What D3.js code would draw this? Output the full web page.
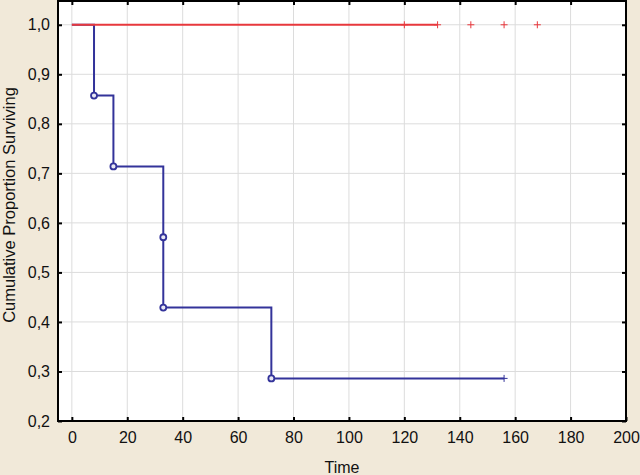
<!DOCTYPE html>
<html>
<head>
<meta charset="utf-8">
<script src="https://cdn.jsdelivr.net/npm/d3@7"></script>
<style>
  body { margin: 0; background: #f1e9d9; }
  svg { display: block; font-family: "Liberation Sans", Arial, sans-serif; }
</style>
</head>
<body>
<svg id="chart"></svg>
<script>
// Group 1 (blue): event times and Kaplan-Meier estimates
const blueTimes = [0, 8, 15, 33, 33, 72, 156];
const blueSurv = [1.0, 0.857, 0.714, 0.571, 0.429, 0.286, 0.286];
const blueEvents = [1, 2, 3, 4, 5]; // indices of points that are deaths (circles)
const blueCensored = [156];

// Group 2 (red): nobody died
const redTimes = [0, 132];
const redSurv = [1.0, 1.0];
const redCensored = [120, 132, 144, 156, 168];

const xTicks = [0, 20, 40, 60, 80, 100, 120, 140, 160, 180, 200];
const yTicks = [0.2, 0.3, 0.4, 0.5, 0.6, 0.7, 0.8, 0.9, 1.0];

const width = 640, height = 475;
const marginTop = 1, marginRight = 14, marginBottom = 54, marginLeft = 58;

const fmt = d3.formatLocale({ decimal: ',', thousands: '.', grouping: [3], currency: ['', ''] }).format('.1f');

const x = d3.scaleLinear().domain([-5, 200]).range([marginLeft, width - marginRight]);
const y = d3.scaleLinear().domain([0.2, 1.048]).range([height - marginBottom, marginTop]);

const svg = d3.select('#chart')
  .attr('width', width)
  .attr('height', height)
  .attr('viewBox', [0, 0, width, height]);

// plot background
svg.append('rect')
  .attr('x', marginLeft).attr('y', marginTop)
  .attr('width', width - marginLeft - marginRight)
  .attr('height', height - marginTop - marginBottom)
  .attr('fill', '#fff');

// grid
svg.append('g')
  .selectAll('line').data(xTicks).join('line')
  .attr('x1', d => x(d)).attr('x2', d => x(d))
  .attr('y1', marginTop).attr('y2', height - marginBottom)
  .attr('stroke', '#dcdcdc').attr('stroke-width', 1);
svg.append('g')
  .selectAll('line').data(yTicks).join('line')
  .attr('x1', marginLeft).attr('x2', width - marginRight)
  .attr('y1', d => y(d)).attr('y2', d => y(d))
  .attr('stroke', '#dcdcdc').attr('stroke-width', 1);

// axes (ticks point inward)
const tickLen = 4;
svg.append('g')
  .attr('transform', `translate(0,${height - marginBottom})`)
  .call(d3.axisBottom(x).tickValues(xTicks).tickSizeInner(-tickLen).tickSizeOuter(0).tickPadding(11))
  .call(g => g.select('.domain').remove())
  .call(g => g.selectAll('.tick line').attr('stroke', '#000').attr('stroke-width', 2))
  .call(g => g.selectAll('.tick text').attr('font-size', 16).attr('fill', '#111'));
svg.append('g')
  .attr('transform', `translate(0,${marginTop})`)
  .call(d3.axisTop(x).tickValues(xTicks.filter(d => d < 200)).tickSizeInner(-tickLen).tickSizeOuter(0).tickFormat(''))
  .call(g => g.select('.domain').remove())
  .call(g => g.selectAll('.tick line').attr('stroke', '#000').attr('stroke-width', 2));
svg.append('g')
  .attr('transform', `translate(${marginLeft},0)`)
  .call(d3.axisLeft(y).tickValues(yTicks).tickSizeInner(-tickLen).tickSizeOuter(0).tickPadding(8).tickFormat(fmt))
  .call(g => g.select('.domain').remove())
  .call(g => g.selectAll('.tick line').attr('stroke', '#000').attr('stroke-width', 2))
  .call(g => g.selectAll('.tick text').attr('font-size', 16).attr('fill', '#111'));
svg.append('g')
  .attr('transform', `translate(${width - marginRight},0)`)
  .call(d3.axisRight(y).tickValues(yTicks).tickSizeInner(-tickLen).tickSizeOuter(0).tickFormat(''))
  .call(g => g.select('.domain').remove())
  .call(g => g.selectAll('.tick line').attr('stroke', '#000').attr('stroke-width', 2));

// frame
svg.append('rect')
  .attr('x', marginLeft).attr('y', marginTop)
  .attr('width', width - marginLeft - marginRight)
  .attr('height', height - marginTop - marginBottom)
  .attr('fill', 'none').attr('stroke', '#000').attr('stroke-width', 2);

// axis titles
svg.append('text')
  .attr('x', (marginLeft + width - marginRight) / 2).attr('y', height - 2)
  .attr('text-anchor', 'middle')
  .attr('font-size', 16).attr('fill', '#111')
  .text('Time');
svg.append('text')
  .attr('transform', `translate(15,205) rotate(-90)`)
  .attr('text-anchor', 'middle')
  .attr('font-size', 16.5).attr('fill', '#111')
  .text('Cumulative Proportion Surviving');

const step = d3.line().curve(d3.curveStepAfter).x(d => x(d[0])).y(d => y(d[1]));
const blue = '#33339a', red = '#e8383d';

const plus = (g, times, value, color) => {
  g.selectAll(null).data(times).join('path')
    .attr('d', d => `M${x(d) - 3.5},${y(value)}h7M${x(d)},${y(value) - 3.5}v7`)
    .attr('stroke', color).attr('stroke-width', 1).attr('fill', 'none');
};

// blue group
const blueData = d3.zip(blueTimes, blueSurv);
svg.append('path').datum(blueData)
  .attr('d', step).attr('fill', 'none').attr('stroke', blue).attr('stroke-width', 2);
svg.append('g').selectAll('circle').data(blueEvents.map(i => blueData[i])).join('circle')
  .attr('cx', d => x(d[0])).attr('cy', d => y(d[1])).attr('r', 3)
  .attr('fill', '#e8e8f4').attr('stroke', blue).attr('stroke-width', 1.8);
plus(svg.append('g'), blueCensored, blueSurv[blueSurv.length - 1], blue);

// red group
svg.append('path').datum(d3.zip(redTimes, redSurv))
  .attr('d', step).attr('fill', 'none').attr('stroke', red).attr('stroke-width', 2);
plus(svg.append('g'), redCensored, redSurv[0], red);
</script>
</body>
</html>
